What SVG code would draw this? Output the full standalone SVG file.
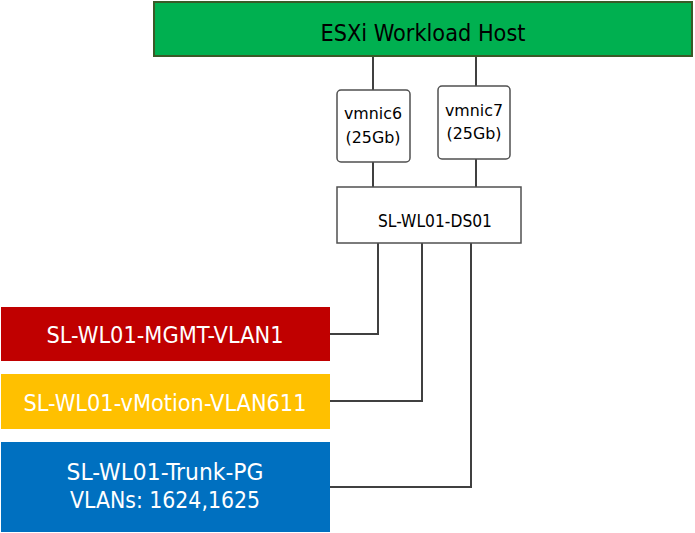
<svg xmlns="http://www.w3.org/2000/svg" width="695" height="533" viewBox="0 0 695 533">
<style>
.t{font-family:"DejaVu Sans Condensed","DejaVu Sans","Liberation Sans",sans-serif;text-anchor:middle}
.w{fill:#ffffff}
.k{fill:#000000}
.box{fill:#ffffff;stroke:#505050;stroke-width:1.5}
.ln{fill:none;stroke:#404040;stroke-width:2}
</style>
<rect width="695" height="533" fill="#ffffff"/>
<g id="connectors">
<path class="ln" d="M373 57V90M373 162V187"/>
<path class="ln" d="M476 57V86M476 159V187"/>
<path class="ln" d="M378 243V334H330"/>
<path class="ln" d="M422 243V401H330"/>
<path class="ln" d="M471 243V487H330"/>
</g>
<g id="host">
<rect x="154" y="2" width="538" height="54" fill="#00B050" stroke="#3A5A28" stroke-width="2"/>
<text class="t k" x="423" y="41" font-size="23" textLength="205" lengthAdjust="spacingAndGlyphs">ESXi Workload Host</text>
</g>
<g id="vmnic6">
<rect class="box" x="337" y="90" width="73" height="72" rx="4"/>
<text class="t k" x="373" y="119" font-size="16.5" textLength="58" lengthAdjust="spacingAndGlyphs">vmnic6</text>
<text class="t k" x="373" y="143" font-size="16.5" textLength="55" lengthAdjust="spacingAndGlyphs">(25Gb)</text>
</g>
<g id="vmnic7">
<rect class="box" x="438" y="86" width="72" height="73" rx="4"/>
<text class="t k" x="474" y="116" font-size="16.5" textLength="58" lengthAdjust="spacingAndGlyphs">vmnic7</text>
<text class="t k" x="474" y="139" font-size="16.5" textLength="55" lengthAdjust="spacingAndGlyphs">(25Gb)</text>
</g>
<g id="ds01">
<rect class="box" x="337" y="187" width="184" height="56"/>
<text class="t k" x="435" y="227" font-size="18" textLength="114" lengthAdjust="spacingAndGlyphs">SL-WL01-DS01</text>
</g>
<g id="mgmt">
<rect x="1" y="307" width="329" height="54" fill="#C00000"/>
<text class="t w" x="165" y="343" font-size="23" textLength="237" lengthAdjust="spacingAndGlyphs">SL-WL01-MGMT-VLAN1</text>
</g>
<g id="vmotion">
<rect x="1" y="374" width="329" height="55" fill="#FFC000"/>
<text class="t w" x="165" y="411" font-size="23" textLength="283" lengthAdjust="spacingAndGlyphs">SL-WL01-vMotion-VLAN611</text>
</g>
<g id="trunk">
<rect x="1" y="442" width="329" height="90" fill="#0070C0"/>
<text class="t w" x="165" y="480" font-size="23" textLength="197" lengthAdjust="spacingAndGlyphs">SL-WL01-Trunk-PG</text>
<text class="t w" x="165" y="508" font-size="23" textLength="190" lengthAdjust="spacingAndGlyphs">VLANs: 1624,1625</text>
</g>
</svg>
